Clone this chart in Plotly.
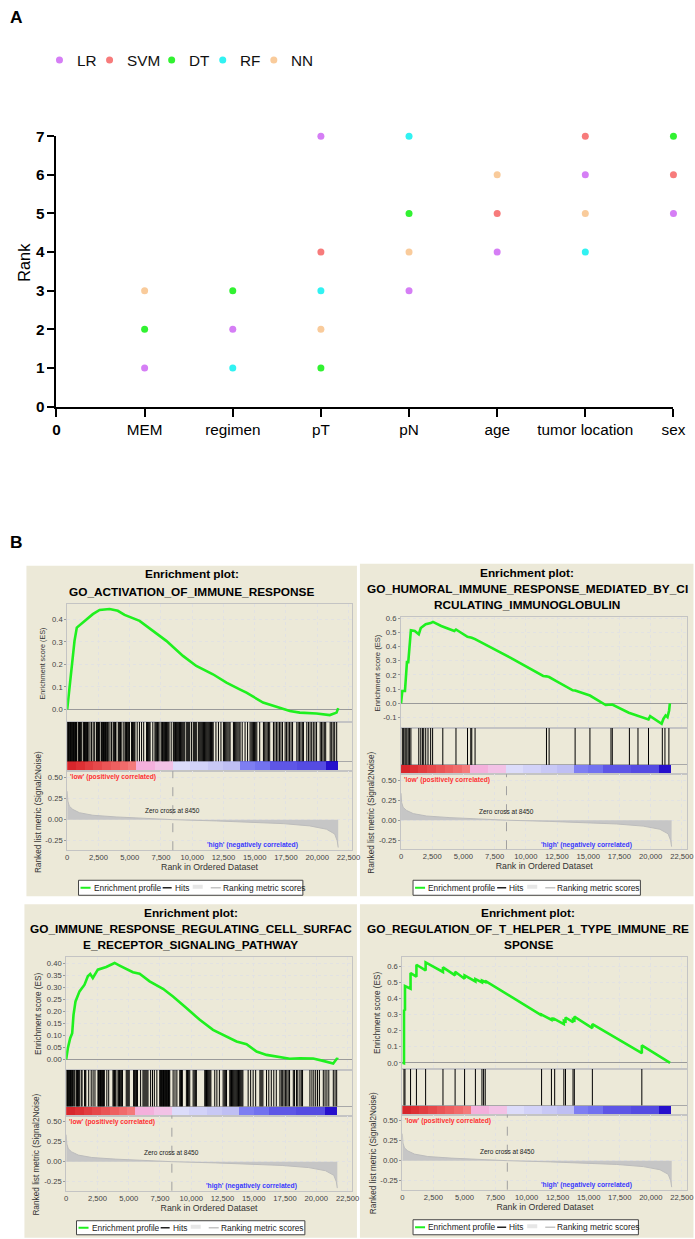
import plotly.graph_objects as go

# The photographed page region maps page pixel q to picture pixel 4.6 + 0.976*q (x) and 9 + 0.985*q (y);
# target positions below are picture pixels, converted back to figure coordinates.
AX, SX, AY, SY = 4.6, 0.976, 9.0, 0.985
W, H = 712, 1252
FS = 1.02
FONT = "Liberation Sans, Arial, sans-serif"

# ---------------- Panel A data ----------------
features = ["MEM", "regimen", "pT", "pN", "age", "tumor location", "sex"]
origin_label = "0"
models = ["LR", "SVM", "DT", "RF", "NN"]
model_colors = ["#d57ef5", "#f77b7b", "#31f231", "#31f2f2", "#f9cb9b"]
rank_LR = [1, 2, 7, 3, 4, 6, 5]
rank_SVM = [None, None, 4, None, 5, 7, 6]
rank_DT = [2, 3, 1, 5, None, None, 7]
rank_RF = [None, 1, 3, 7, None, 4, None]
rank_NN = [3, None, 2, 4, 6, 5, None]
rank_ticks = [0, 1, 2, 3, 4, 5, 6, 7]

# ---------------- Panel B data ----------------
titles1 = ["Enrichment plot:", "GO_ACTIVATION_OF_IMMUNE_RESPONSE"]
titles2 = ["Enrichment plot:", "GO_HUMORAL_IMMUNE_RESPONSE_MEDIATED_BY_CI", "RCULATING_IMMUNOGLOBULIN"]
titles3 = ["Enrichment plot:", "GO_IMMUNE_RESPONSE_REGULATING_CELL_SURFAC", "E_RECEPTOR_SIGNALING_PATHWAY"]
titles4 = ["Enrichment plot:", "GO_REGULATION_OF_T_HELPER_1_TYPE_IMMUNE_RE", "SPONSE"]

zero_cross = 8450
rank_tick_step = 2500
metric_ticks = [-0.25, 0.0, 0.25, 0.5]
es1_ticks = [0.0, 0.1, 0.2, 0.3, 0.4]
es2_ticks = [-0.1, 0.0, 0.1, 0.2, 0.3, 0.4, 0.5, 0.6]
es3_ticks = [0.0, 0.05, 0.1, 0.15, 0.2, 0.25, 0.3, 0.35, 0.4]
es4_ticks = [0.0, 0.1, 0.2, 0.3, 0.4, 0.5, 0.6]

metric_rank = [0, 50, 170, 440, 980, 2050, 3920, 6050, 8450, 11930, 14600, 17270, 19400, 20740, 21400, 21600, 21680]
metric_score = [0.337, 0.22, 0.16, 0.122, 0.082, 0.052, 0.032, 0.016, 0.0, -0.015, -0.027, -0.047, -0.074, -0.113, -0.17, -0.25, -0.33]

bar_edges = [0, 700, 1400, 2100, 2800, 3500, 4200, 4900, 5550, 7000, 8450, 9800, 11250, 12500, 13850, 15000, 16200, 18400, 20700, 21650]
bar_colors = ["#d7262c", "#dd3034", "#e23d40", "#e6494b", "#ea5556", "#ee6060", "#f16b6b", "#f47a7a",
              "#f4b0dc", "#f2c2e6", "#dcdcfa", "#d2d2f8", "#c8c8f5", "#bfbff3", "#7e7ef2", "#7272ef",
              "#5e56e6", "#554be2", "#2610cc"]

es1_rank = [0, 184, 320, 585, 770, 1120, 1520, 2050, 2590, 3390, 4050, 4590, 5790, 6860, 7930, 9260, 10330,
            11660, 12740, 13800, 14340, 15670, 17000, 17810, 18610, 19940, 21010, 21550, 21680]
es1_score = [0.0, 0.096, 0.17, 0.305, 0.364, 0.38, 0.40, 0.424, 0.443, 0.447, 0.439, 0.421, 0.394, 0.35, 0.305,
             0.238, 0.193, 0.156, 0.119, 0.089, 0.074, 0.03, 0.007, -0.008, -0.015, -0.019, -0.026, -0.015, 0.005]
hits1 = [10, 60, 110, 160, 210, 260, 310, 360, 410, 460, 510, 560, 610, 660, 710, 750,
         880, 930, 980, 1030, 1080, 1130, 1280, 1330, 1380, 1430, 1480, 1530, 1580, 1630, 1680,
         1820, 1950, 2080, 2200, 2350, 2400, 2450, 2500, 2560, 2615,
         2750, 2800, 2850, 2900, 2950, 3000, 3060, 3120, 3180, 3240, 3280, 3420, 3550,
         3680, 3740, 3800, 3860, 3900, 4085, 4140, 4200, 4260, 4320, 4480,
         4620, 4680, 4740, 4800, 4860, 4920, 4980, 5150, 5220, 5290, 5360, 5420,
         5600, 5780, 5950, 6120, 6350, 6420, 6490, 6560, 6630, 6850,
         7020, 7090, 7160, 7230, 7290, 7420,
         7560, 7620, 7680, 7740, 7800, 7870, 7940, 8010, 8080, 8150, 8320,
         8490, 8550, 8610, 8670, 8730, 8790, 8850, 8920, 8990, 9060, 9130, 9200, 9270, 9340, 9410,
         9560, 9640, 9720, 9800, 9950, 10090, 10170, 10250, 10330,
         10490, 10560, 10630, 10700, 10770, 10840, 10910, 10980, 11050, 11120, 11190, 11260,
         11330, 11400, 11470, 11540, 11610, 11680, 11900, 12100, 12300,
         12500, 12590, 12680, 12770, 12860, 12950, 13030, 13300, 13390, 13480, 13570, 13660, 13750, 13830,
         14000, 14230, 14430, 14630, 14720, 14810, 14900, 14990, 15080, 15170, 15400,
         15700, 15800, 15900, 16000, 16100, 16200, 16500, 16620, 16740, 16860, 16980, 17100, 17220,
         17435, 17550, 17670, 17790, 17910, 18030, 18370, 18480, 18590, 18700, 18810, 18900,
         19170, 19300, 19430, 19560, 19690, 19820, 19950, 20240, 20350, 20460, 20570, 20680,
         21040, 21160, 21280, 21400, 21560]

es2_rank = [0, 105, 316, 396, 475, 580, 686, 791, 1100, 1424, 1582, 1819, 1978, 2373, 2560, 3220, 4270, 4403,
            5326, 5669, 5933, 8750, 11390, 11654, 11865, 12440, 13760, 13948, 15080, 15135, 16400, 16822,
            16927, 18250, 18984, 19828, 19960, 20880, 21020, 21200, 21350, 21480, 21540]
es2_score = [0.0, 0.087, 0.087, 0.19, 0.29, 0.29, 0.40, 0.515, 0.51, 0.487, 0.53, 0.545, 0.557, 0.565, 0.574,
             0.545, 0.51, 0.52, 0.468, 0.462, 0.452, 0.322, 0.193, 0.19, 0.185, 0.157, 0.092, 0.09, 0.052,
             0.055, -0.012, -0.01, -0.008, -0.066, -0.09, -0.113, -0.09, -0.144, -0.11, -0.085, -0.097, -0.05, 0.0]
hits2 = [105, 211, 316, 396, 475, 580, 686, 791, 1424, 1582, 1714, 1819, 1978, 2162, 2373, 2531, 3348,
         4403, 5326, 5590, 5669, 5933, 11654, 11865, 13948, 15135, 16822, 16927, 18298, 18984, 19828,
         20935, 21146, 21462]

es3_rank = [0, 130, 320, 480, 585, 745, 1065, 1466, 1730, 1922, 2130, 2530, 3200, 3870, 4270, 5335, 5870,
            6670, 7740, 8540, 9610, 10680, 11740, 12540, 13080, 13620, 14420, 15220, 16020, 17090, 17880,
            18690, 19750, 20550, 21350, 21670, 21700]
es3_score = [0.0, 0.046, 0.088, 0.109, 0.186, 0.242, 0.284, 0.312, 0.347, 0.357, 0.34, 0.375, 0.386, 0.403,
             0.392, 0.364, 0.358, 0.326, 0.295, 0.263, 0.214, 0.165, 0.123, 0.102, 0.088, 0.074, 0.063,
             0.032, 0.018, 0.007, 0.002, 0.004, 0.003, -0.007, -0.018, 0.004, 0.0]
hits3 = [50, 100, 150, 200, 250, 300, 350, 400, 450, 500, 600, 680, 800, 850, 900, 950, 1000, 1050,
         1200, 1270, 1470, 1520, 1570, 1800, 2000, 2150, 2300,
         2540, 2590, 2640, 2690, 2740, 2790, 2840, 2890, 2940, 2990, 3050, 3250, 3400,
         3740, 3800, 3860, 3920, 3980, 4140, 4200, 4260, 4320, 4380, 4440, 4500,
         4800, 4880, 4960, 5040, 5390, 5450, 5510, 5570, 5630, 5700, 5950,
         6140, 6220, 6300, 6380, 6460, 6540, 6750, 6900, 7050, 7250,
         7480, 7530, 7580, 7630, 7680, 7730, 7780, 7830, 7880, 7930, 7980, 8030, 8080, 8130, 8180, 8230, 8280,
         8550, 8700, 8850, 9080, 9150, 9220, 9290, 9610, 9700, 9790, 9880, 10150, 10240, 10330, 10410,
         11080, 11150, 11220, 11290, 11360, 11430, 11500, 11570, 11880, 12050, 12250,
         12550, 12640, 12730, 12820, 13080, 13150, 13220, 13290, 13360, 13430, 13500, 13570, 13640,
         13710, 13780, 13850, 13920, 13990, 14060, 14130, 14550, 14750, 14950, 15150,
         15490, 15570, 15650, 15730, 16020, 16200, 16400, 16600, 16800,
         17090, 17200, 17310, 17420, 17530, 17640, 17750, 17860, 18160, 18260, 18420, 18520, 18690,
         18800, 18900, 19490, 19650, 19800, 19950, 20100, 20250, 20560, 20700, 20850, 21000,
         21360, 21500, 21630]

es4_rank = [0, 134, 134, 214, 214, 662, 662, 1136, 1136, 1875, 1875, 3272, 3272, 4248, 4248, 5012, 5012,
            5882, 5882, 6410, 6410, 6673, 6673, 11208, 11208, 12000, 12000, 12263, 12263, 13001, 13001,
            13133, 13133, 13740, 13740, 13845, 13845, 15296, 15296, 19277, 19277, 21550]
es4_score = [0.0, -0.003, 0.33, 0.325, 0.478, 0.461, 0.558, 0.536, 0.61, 0.575, 0.625, 0.565, 0.594, 0.544,
             0.567, 0.523, 0.544, 0.506, 0.521, 0.50, 0.512, 0.503, 0.51, 0.295, 0.30, 0.268, 0.278, 0.266,
             0.272, 0.241, 0.262, 0.258, 0.282, 0.253, 0.27, 0.266, 0.287, 0.216, 0.241, 0.06, 0.108, 0.0]
hits4 = [134, 214, 662, 1136, 1875, 3272, 4248, 5012, 5882, 6410, 6542, 6673, 11208, 12000, 12263,
         13001, 13133, 13740, 13845, 15296, 19277]

legend_labels = ["Enrichment profile", "Hits", "Ranking metric scores"]
low_label = "'low' (positively correlated)"
high_label = "'high' (negatively correlated)"


# ---------------- geometry (picture pixels -> paper) ----------------
def X(p):
    return ((p - AX) / SX) / W


def Y(p):
    return 1 - ((p - AY) / SY) / H


def dx(l, r):
    return [X(l), X(r)]


def dy(t, b):
    return [Y(b), Y(t)]


def fs(v):
    return round(v * FS, 2)


geoms = [
    dict(bg=(27, 565, 357, 895), xl=67.7, xr=352, xmax=22780, es=(603, 721), hits=(721, 770), met=(770, 849),
         es_range=[-0.057, 0.47], es_fmt="{:.1f}", title_x=192, title_y=[573, 591], es_tx=43, es_ts=7,
         met_tx=39, legend=(79, 879, 303, 894)),
    dict(bg=(360, 563, 693, 895), xl=401, xr=687, xmax=22950, es=(616, 727), hits=(727, 773), met=(773, 848),
         es_range=[-0.174, 0.609], es_fmt="{:.1f}", title_x=527, title_y=[572, 588, 604], es_tx=377, es_ts=7.5,
         met_tx=372, legend=(413, 879, 640, 894)),
    dict(bg=(25, 903, 357, 1236), xl=66.7, xr=352, xmax=22850, es=(956, 1068), hits=(1068, 1114),
         met=(1114, 1189), es_range=[-0.0432, 0.4264], es_fmt="{:.2f}", title_x=191, title_y=[912, 928, 944],
         es_tx=39, es_ts=8, met_tx=37, legend=(77, 1219, 305, 1233)),
    dict(bg=(360, 903, 693, 1236), xl=402.3, xr=687, xmax=22950, es=(956, 1067), hits=(1067, 1113),
         met=(1113, 1188), es_range=[-0.0355, 0.656], es_fmt="{:.1f}", title_x=528, title_y=[912, 928, 944],
         es_tx=378, es_ts=8, met_tx=373, legend=(413, 1218, 638, 1233)),
]
panel_data = [
    (titles1, es1_rank, es1_score, hits1, es1_ticks),
    (titles2, es2_rank, es2_score, hits2, es2_ticks),
    (titles3, es3_rank, es3_score, hits3, es3_ticks),
    (titles4, es4_rank, es4_score, hits4, es4_ticks),
]

fig = go.Figure()
shapes = []
annotations = []
layout = dict(
    width=W, height=H, margin=dict(l=0, r=0, t=0, b=0),
    paper_bgcolor="white", plot_bgcolor="white", showlegend=False,
    font=dict(family=FONT, color="#222"),
)


def note(text, px, py, size, color="#222", xanchor="center", yanchor="middle", angle=0, weight="normal"):
    annotations.append(dict(text=text, x=X(px), y=Y(py), xref="paper", yref="paper", showarrow=False,
                            xanchor=xanchor, yanchor=yanchor, textangle=angle,
                            font=dict(size=fs(size), color=color, family=FONT, weight=weight)))


# ---------------- Panel A ----------------
for name, color, ranks in zip(models, model_colors, [rank_LR, rank_SVM, rank_DT, rank_RF, rank_NN]):
    fig.add_trace(go.Scatter(x=features, y=ranks, mode="markers", name=name,
                             marker=dict(color=color, size=7), cliponaxis=False,
                             xaxis="x", yaxis="y"))

cats = [origin_label] + features
layout["xaxis"] = dict(
    domain=dx(57, 673), anchor="y", type="category", categoryorder="array", categoryarray=cats,
    range=[0, len(cats) - 1], tickmode="array", tickvals=cats,
    ticktext=["<b>" + origin_label + "</b>"] + features,
    showline=True, linecolor="black", linewidth=2, ticks="outside", ticklen=8, tickwidth=2,
    tickcolor="black", tickfont=dict(size=fs(15), color="black", family=FONT), showgrid=False, zeroline=False,
)
layout["yaxis"] = dict(
    domain=dy(136, 406), anchor="x", range=[0, 7], tickmode="array", tickvals=rank_ticks,
    ticktext=[str(v) for v in rank_ticks], showline=True, linecolor="black", linewidth=2,
    ticks="outside", ticklen=7, tickwidth=2, tickcolor="black",
    tickfont=dict(size=fs(15), color="black", family=FONT, weight="bold"), showgrid=False, zeroline=False,
)
note("Rank", 25, 262, 16, color="black", angle=-90)
note("A", 9, 17, 17, color="black", xanchor="left", weight="bold")
note("B", 9, 541, 17, color="black", xanchor="left", weight="bold")

# legend of panel A
leg_marker_x = [60, 110, 172, 223, 274]
for mx, name, color in zip(leg_marker_x, models, model_colors):
    shapes.append(dict(type="circle", xref="paper", yref="paper", x0=X(mx - 3.5), x1=X(mx + 3.5),
                       y0=Y(60 + 3.5), y1=Y(60 - 3.5), fillcolor=color, line=dict(width=0)))
    note(name, mx + 15, 60, 15, color="#111", xanchor="left")

# ---------------- Panel B ----------------
BEIGE = "#ece9d8"
GRID = "#e2e2e2"
TICKF = dict(size=fs(7.5), color="#444", family=FONT)
bar_centers = [(a + b) / 2 for a, b in zip(bar_edges[:-1], bar_edges[1:])]
bar_widths = [b - a for a, b in zip(bar_edges[:-1], bar_edges[1:])]

for i, (g, (titles, es_rank, es_score, hits, es_ticks)) in enumerate(zip(geoms, panel_data)):
    n = 2 + 3 * i
    ax_es, ax_hit, ax_met = n, n + 1, n + 2
    l, t, r, b = g["bg"]
    shapes.append(dict(type="rect", xref="paper", yref="paper", x0=X(l), x1=X(r), y0=Y(b), y1=Y(t),
                       fillcolor=BEIGE, line=dict(width=0), layer="below"))
    for line_txt, ty in zip(titles, g["title_y"]):
        note(line_txt, g["title_x"], ty, 11.6, color="black", weight="bold")

    xr = [0, g["xmax"]]
    common_frame = dict(showline=True, mirror=True, linecolor="#c4c4c4", linewidth=1, zeroline=False)

    # ES plot
    fig.add_trace(go.Scatter(x=es_rank, y=es_score, mode="lines", line=dict(color="#1ff01f", width=2.6),
                             xaxis=f"x{ax_es}", yaxis=f"y{ax_es}"))
    layout[f"xaxis{ax_es}"] = dict(domain=dx(g["xl"], g["xr"]), anchor=f"y{ax_es}", range=xr,
                                   dtick=rank_tick_step, tick0=0, showticklabels=False, ticks="",
                                   showgrid=True, gridcolor=GRID, griddash="dot", **common_frame)
    layout[f"yaxis{ax_es}"] = dict(domain=dy(*g["es"]), anchor=f"x{ax_es}", range=g["es_range"],
                                   tickmode="array", tickvals=es_ticks,
                                   ticktext=[g["es_fmt"].format(v) for v in es_ticks],
                                   tickfont=TICKF, ticks="outside", ticklen=2, tickcolor="#999",
                                   showgrid=True, gridcolor=GRID, griddash="dot",
                                   showline=True, mirror=True, linecolor="#c4c4c4", linewidth=1,
                                   zeroline=True, zerolinecolor="#9a9a9a", zerolinewidth=1)

    # Hits + colour bar
    hx, hy = [], []
    for h in hits:
        hx += [h, h, None]
        hy += [0.2, 1.0, None]
    fig.add_trace(go.Bar(x=bar_centers, y=[0.2] * len(bar_centers), width=bar_widths, base=0,
                         marker=dict(color=bar_colors, line=dict(width=0)),
                         xaxis=f"x{ax_hit}", yaxis=f"y{ax_hit}"))
    fig.add_trace(go.Scatter(x=hx, y=hy, mode="lines", line=dict(color="#000000", width=1.0),
                             xaxis=f"x{ax_hit}", yaxis=f"y{ax_hit}"))
    layout[f"xaxis{ax_hit}"] = dict(domain=dx(g["xl"], g["xr"]), anchor=f"y{ax_hit}", range=xr,
                                    showticklabels=False, ticks="", showgrid=False, **common_frame)
    layout[f"yaxis{ax_hit}"] = dict(domain=dy(*g["hits"]), anchor=f"x{ax_hit}", range=[0, 1],
                                    tickmode="array", tickvals=[0.2], showticklabels=False, ticks="",
                                    showgrid=True, gridcolor="#a8a8a8", **common_frame)

    # Ranked list metric
    fig.add_trace(go.Scatter(x=metric_rank, y=metric_score, mode="lines", fill="tozeroy",
                             fillcolor="#c6c6c6", line=dict(color="#bcbcbc", width=1),
                             xaxis=f"x{ax_met}", yaxis=f"y{ax_met}"))
    layout[f"xaxis{ax_met}"] = dict(domain=dx(g["xl"], g["xr"]), anchor=f"y{ax_met}", range=xr,
                                    dtick=rank_tick_step, tick0=0, tickformat=",d", tickfont=TICKF,
                                    ticks="", showgrid=True, gridcolor=GRID, griddash="dot",
                                    title=dict(text="Rank in Ordered Dataset", standoff=2,
                                               font=dict(size=fs(8.6), color="#333")),
                                    **common_frame)
    layout[f"yaxis{ax_met}"] = dict(domain=dy(*g["met"]), anchor=f"x{ax_met}", range=[-0.362, 0.575],
                                    tickmode="array", tickvals=metric_ticks,
                                    ticktext=["{:.2f}".format(v) for v in metric_ticks],
                                    tickfont=TICKF, ticks="outside", ticklen=2, tickcolor="#999",
                                    showgrid=True, gridcolor=GRID, griddash="dot", **common_frame)
    shapes.append(dict(type="line", xref=f"x{ax_met}", yref=f"y{ax_met} domain", x0=zero_cross,
                       x1=zero_cross, y0=0, y1=1, line=dict(color="#a0a0a0", width=1, dash="dash")))
    annotations.append(dict(text=f"Zero cross at {zero_cross}", x=zero_cross, y=0.11, xref=f"x{ax_met}",
                            yref=f"y{ax_met}", showarrow=False, xanchor="center", yanchor="middle",
                            font=dict(size=fs(6.4), color="#222")))
    annotations.append(dict(text=low_label, x=0.003, y=1.0, xref=f"x{ax_met} domain",
                            yref=f"y{ax_met} domain", showarrow=False, xanchor="left", yanchor="top",
                            font=dict(size=fs(6.6), color="#ff3030", weight="bold")))
    annotations.append(dict(text=high_label, x=14850, y=-0.305, xref=f"x{ax_met}", yref=f"y{ax_met}",
                            showarrow=False, xanchor="center", yanchor="middle",
                            font=dict(size=fs(6.6), color="#3838ff", weight="bold")))

    # axis titles (vertical)
    es_t, es_b = g["es"]
    note("Enrichment score (ES)", g["es_tx"], (es_t + es_b) / 2, g["es_ts"], color="#333", angle=-90)
    m_t, m_b = g["met"]
    note("Ranked list metric (Signal2Noise)", g["met_tx"], (m_t + m_b) / 2 + 1, 8.1, color="#333", angle=-90)

    # legend box
    ll, lt, lr, lb = g["legend"]
    cy = (lt + lb) / 2
    shapes.append(dict(type="rect", xref="paper", yref="paper", x0=X(ll), x1=X(lr), y0=Y(lb), y1=Y(lt),
                       fillcolor="white", line=dict(color="#444", width=1)))
    shapes.append(dict(type="line", xref="paper", yref="paper", x0=X(ll + 2), x1=X(ll + 12), y0=Y(cy),
                       y1=Y(cy), line=dict(color="#1ff01f", width=2)))
    shapes.append(dict(type="line", xref="paper", yref="paper", x0=X(ll + 84), x1=X(ll + 93), y0=Y(cy),
                       y1=Y(cy), line=dict(color="#222", width=1.5)))
    shapes.append(dict(type="rect", xref="paper", yref="paper", x0=X(ll + 114), x1=X(ll + 124),
                       y0=Y(cy + 1), y1=Y(cy - 3), fillcolor="#e6e6e6", line=dict(width=0)))
    shapes.append(dict(type="line", xref="paper", yref="paper", x0=X(ll + 132), x1=X(ll + 142), y0=Y(cy),
                       y1=Y(cy), line=dict(color="#c4c4c4", width=1.5)))
    for txt, off in zip(legend_labels, [13, 94, 142]):
        note(txt, ll + off, cy, 8.2, color="#222", xanchor="left")

layout["shapes"] = shapes
layout["annotations"] = annotations
layout["bargap"] = 0
fig.update_layout(**layout)
fig.write_html("out.html", config={"displayModeBar": False},
               post_script="document.body.style.margin='0';document.body.style.overflow='hidden';")
